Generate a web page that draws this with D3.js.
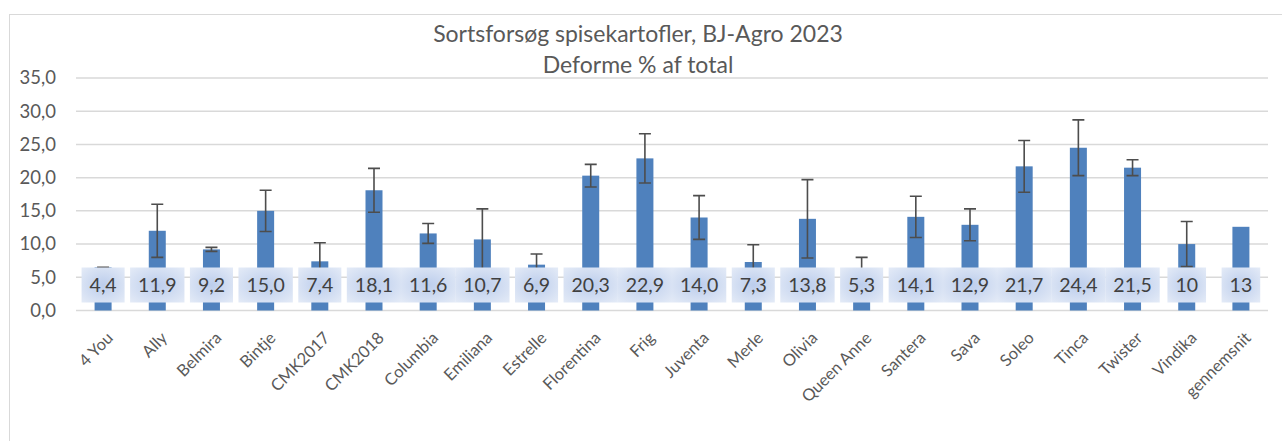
<!DOCTYPE html>
<html lang="da">

<head>
  <meta charset="UTF-8">
  <title>Sortsforsøg spisekartofler</title>
  <style>
    body { margin: 0; background: #fff; }
    text { font-family: Lato, 'Open Sans', sans-serif; }
  </style>
</head>

<body>
  <svg id="svg" width="1282" height="441"></svg>

  <script src="https://d3js.org/d3.v7.min.js"></script>
  <script>
    // sorter
    const varieties = ['4 You', 'Ally', 'Belmira', 'Bintje', 'CMK2017', 'CMK2018', 'Columbia', 'Emiliana',
      'Estrelle', 'Florentina', 'Frig', 'Juventa', 'Merle', 'Olivia', 'Queen Anne', 'Santera', 'Sava',
      'Soleo', 'Tinca', 'Twister', 'Vindika', 'gennemsnit']
    // søjlehøjder (deforme %)
    const barValues = [6.5, 12.0, 9.2, 15.0, 7.4, 18.1, 11.6, 10.7, 6.9, 20.3, 22.9, 14.0, 7.3, 13.8,
      5.3, 14.1, 12.9, 21.7, 24.5, 21.5, 10.0, 12.6]
    // fejllinjer (+/-), null = ingen
    const errValues = [0, 4.0, 0.3, 3.1, 2.8, 3.3, 1.5, 4.6, 1.6, 1.7, 3.7, 3.3, 2.6, 5.9,
      2.7, 3.1, 2.4, 3.9, 4.2, 1.2, 3.4, null]
    // dataetiketter som vist
    const labelTexts = ['4,4', '11,9', '9,2', '15,0', '7,4', '18,1', '11,6', '10,7', '6,9', '20,3', '22,9',
      '14,0', '7,3', '13,8', '5,3', '14,1', '12,9', '21,7', '24,4', '21,5', '10', '13']
    const yTicks = [0, 5, 10, 15, 20, 25, 30, 35]

    const svg = d3.select('#svg')

    // ramme
    svg.append('rect')
      .attr('x', 9.5).attr('y', 14.5)
      .attr('width', 1290).attr('height', 440)
      .attr('fill', '#fff')
      .attr('stroke', '#d9d9d9')

    const xScale = d3.scaleBand().domain(varieties).range([76, 1268])
    const yScale = d3.scaleLinear().domain([0, 35]).range([310.5, 78])

    // titel
    svg.append('text')
      .attr('x', 638).attr('y', 42)
      .attr('text-anchor', 'middle')
      .attr('fill', '#595959')
      .style('font-size', '23px')
      .text('Sortsforsøg spisekartofler, BJ-Agro 2023')
    svg.append('text')
      .attr('x', 638).attr('y', 73)
      .attr('text-anchor', 'middle')
      .attr('fill', '#595959')
      .style('font-size', '23px')
      .text('Deforme % af total')

    // gitterlinjer
    svg.append('g')
      .selectAll('line')
      .data(yTicks)
      .enter()
      .append('line')
      .attr('x1', 76).attr('x2', 1268)
      .attr('y1', d => yScale(d)).attr('y2', d => yScale(d))
      .attr('stroke', '#d9d9d9')
      .attr('stroke-width', 1.5)

    // y-akse
    const yG = svg.append('g')
      .attr('transform', 'translate(56,0)')
      .call(d3.axisLeft(yScale).tickValues(yTicks).tickSize(0).tickPadding(0)
        .tickFormat(d => d3.format('.1f')(d).replace('.', ',')))
    yG.select('.domain').remove()
    yG.selectAll('text')
      .attr('fill', '#595959')
      .style('font-size', '18.5px')
      .style('font-family', 'Lato, sans-serif')

    // søjler
    const barW = 17
    svg.append('g')
      .selectAll('rect')
      .data(varieties)
      .enter()
      .append('rect')
      .attr('x', d => xScale(d) + xScale.bandwidth() / 2 - barW / 2)
      .attr('width', barW)
      .attr('y', (d, i) => yScale(barValues[i]))
      .attr('height', (d, i) => yScale(0) - yScale(barValues[i]))
      .attr('fill', '#4f81bd')

    // fejllinjer
    svg.append('g')
      .selectAll('path')
      .data(varieties.map((d, i) => ({ name: d, v: barValues[i], e: errValues[i] })).filter(d => d.e !== null))
      .enter()
      .append('path')
      .attr('stroke', '#4d4d4d')
      .attr('stroke-width', 1.6)
      .attr('fill', 'none')
      .attr('d', d => {
        const cx = xScale(d.name) + xScale.bandwidth() / 2
        const y1 = yScale(d.v + d.e)
        const y2 = yScale(d.v - d.e)
        return d3.line()([[cx, y1], [cx, y2]]) + d3.line()([[cx - 6, y1], [cx + 6, y1]]) +
          d3.line()([[cx - 6, y2], [cx + 6, y2]])
      })

    // dataetiketter
    const grad = svg.append('defs').append('radialGradient')
      .attr('id', 'lblGrad')
      .attr('cx', '50%').attr('cy', '50%').attr('r', '70%')
    grad.append('stop').attr('offset', '0%').attr('stop-color', '#bccdec')
    grad.append('stop').attr('offset', '100%').attr('stop-color', '#e4ebf7')

    const lblG = svg.append('g')
      .selectAll('g')
      .data(varieties)
      .enter()
      .append('g')
      .attr('transform', d => `translate(${xScale(d) + xScale.bandwidth() / 2},285)`)
    lblG.append('text')
      .attr('text-anchor', 'middle')
      .attr('dy', '0.36em')
      .attr('fill', '#404040')
      .style('font-size', '19.5px')
      .text((d, i) => labelTexts[i])
    lblG.each(function () {
      const g = d3.select(this)
      const w = g.select('text').node().getComputedTextLength() + 16
      g.insert('rect', 'text')
        .attr('x', -w / 2).attr('y', -17.5)
        .attr('width', w).attr('height', 35)
        .attr('fill', 'url(#lblGrad)')
    })

    // kategorinavne (tegnes stort og skaleres ned)
    svg.append('g')
      .selectAll('text')
      .data(varieties)
      .enter()
      .append('text')
      .attr('transform', d => `translate(${xScale(d) + xScale.bandwidth() / 2 + 11},339) rotate(-45) scale(0.25)`)
      .attr('text-anchor', 'end')
      .attr('fill', '#595959')
      .style('font-size', '66px')
      .text(d => d)
  </script>

</body>

</html>
